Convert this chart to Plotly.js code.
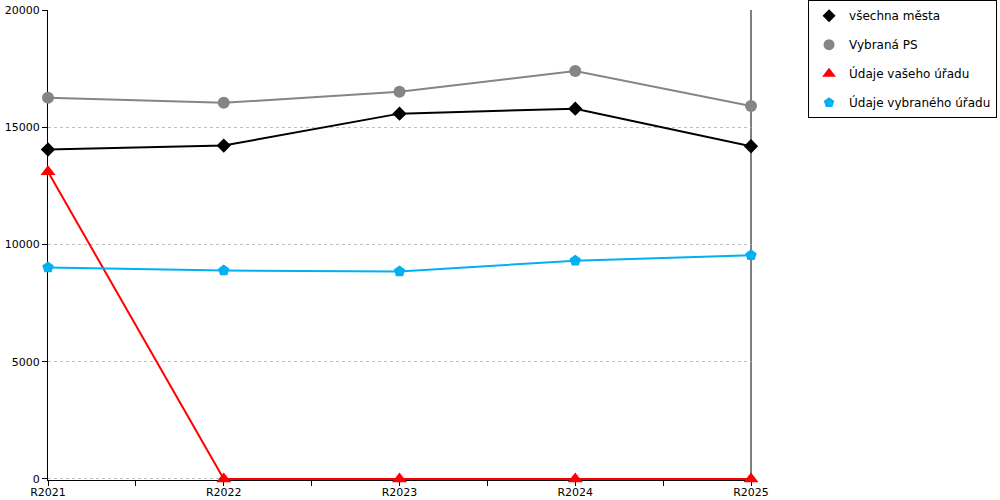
<!DOCTYPE html>
<html><head><meta charset="utf-8">
<script src="https://cdn.plot.ly/plotly-3.0.1.min.js"></script>
<style>body{margin:0;background:#fff}#c{width:1000px;height:500px}</style>
</head><body><div id="c"></div>
<script>
var categories = ["R2021","R2022","R2023","R2024","R2025"];
var names = ["všechna města","Vybraná PS","Údaje vašeho úřadu","Údaje vybraného úřadu"];
var vsechnaMesta = [14050, 14220, 15580, 15790, 14190];
var vybranaPS = [16260, 16040, 16510, 17400, 15910];
var vasUrad = [13100, 0, 0, 0, 0];
var vybranyUrad = [9020, 8890, 8850, 9310, 9540];
var yTicks = [0, 5000, 10000, 15000, 20000];

var series = [vsechnaMesta, vybranaPS, vasUrad, vybranyUrad];
var colors = ["#000000","#858585","#ff0000","#00b0f0"];
var symbols = ["diamond","circle","triangle-up","pentagon"];
var sizes = [11, 12, 13, 12];
var widths = [2, 2, 2, 2];
var xs = categories.map(function(_, i){ return i; });

var data = [];
series.forEach(function(s, k){
  data.push({x: xs, y: s, type: "scatter", mode: "lines+markers", showlegend: false,
    cliponaxis: false,
    line: {color: colors[k], width: widths[k]},
    marker: {symbol: symbols[k], size: sizes[k], color: colors[k]}});
});
series.forEach(function(s, k){
  data.push({x: [null], y: [null], type: "scatter", mode: "markers", name: names[k],
    legendgroup: "g" + k,
    marker: {symbol: symbols[k], size: sizes[k] - 1, color: colors[k]}});
});

var layout = {
  width: 1000, height: 500,
  margin: {l: 48, r: 249, t: 10, b: 20, autoexpand: false},
  paper_bgcolor: "#fff", plot_bgcolor: "#fff",
  font: {family: "DejaVu Sans, Verdana, sans-serif", size: 12, color: "#000"},
  xaxis: {range: [0, 4], tickvals: xs, ticktext: categories, showgrid: false, zeroline: false,
    automargin: false, layer: "below traces",
    showline: true, linecolor: "#000", linewidth: 1, ticks: "outside", ticklen: 4, tickcolor: "#000",
    tickfont: {size: 11}, ticklabelstandoff: -2,
    minor: {dtick: 0.5, tick0: 0, ticks: "outside", ticklen: 5, tickcolor: "#000", showgrid: false}},
  yaxis: {range: [-45, 20000], tickvals: yTicks, tickformat: "d", showgrid: true, gridcolor: "#c0c0c0", griddash: "dot",
    automargin: false, layer: "below traces",
    zeroline: false, showline: true, linecolor: "#000", linewidth: 1, ticks: "outside", ticklen: 5,
    tickcolor: "#000", tickfont: {size: 11}},
  shapes: [{type: "line", xref: "paper", yref: "paper", x0: 1, x1: 1, y0: 0, y1: 1,
    layer: "below", line: {color: "#000", width: 1}}],
  legend: {x: 1.35, xanchor: "right", y: 1.021, yanchor: "top", bordercolor: "#000", borderwidth: 1,
    bgcolor: "#fff", font: {size: 12}, tracegroupgap: 10, itemwidth: 30, traceorder: "grouped"}
};
Plotly.newPlot("c", data, layout, {displayModeBar: false});
</script></body></html>
